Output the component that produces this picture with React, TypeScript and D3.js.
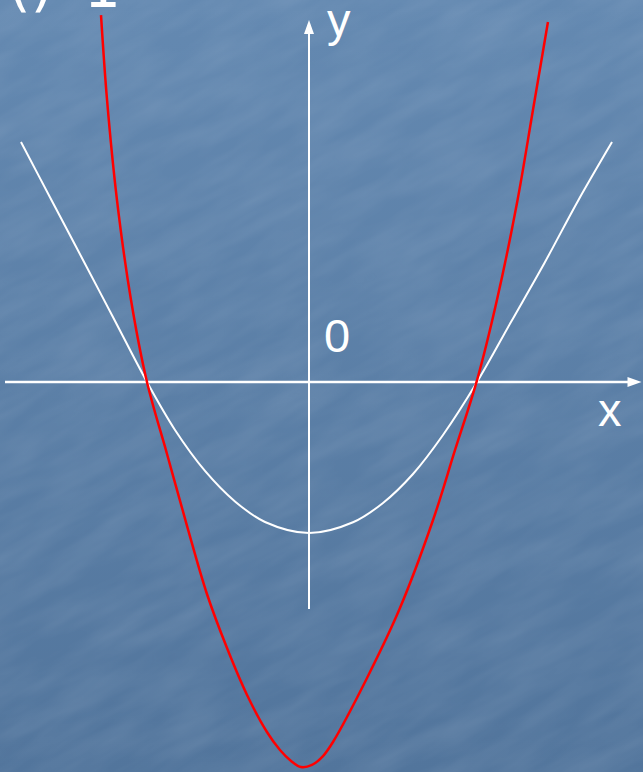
import React, {useEffect} from 'react';
import * as d3 from "d3";

// points, in axis units (x: root at ±1, y: white vertex at -1)
const whiteX = [-1.767, -1.577, -1.38, -1.19, -0.994, -0.822, -0.638, -0.454, -0.27, 0, 0.27, 0.454, 0.638, 0.822, 1.031, 1.239, 1.448, 1.65, 1.859];
const whiteY = [1.589, 1.199, 0.795, 0.404, 0, -0.318, -0.589, -0.791, -0.927, -1.0, -0.929, -0.801, -0.609, -0.351, 0, 0.397, 0.795, 1.199, 1.589];

const redX = [-1.276, -1.239, -1.178, -1.092, -0.994, -0.871, -0.748, -0.626, -0.503, -0.38, -0.258, -0.178, -0.11, -0.049, 0.018, 0.086, 0.147, 0.356, 0.558, 0.761, 0.896, 1.031, 1.153, 1.276, 1.374, 1.466];
const redY = [2.43, 1.868, 1.205, 0.543, 0, -0.477, -0.954, -1.404, -1.762, -2.073, -2.318, -2.437, -2.51, -2.55, -2.536, -2.477, -2.384, -1.96, -1.497, -0.914, -0.45, 0.013, 0.543, 1.185, 1.801, 2.384];

// axis extents
const xAxisRange = [-1.865, 2.04];
const yAxisRange = [-1.503, 2.397];

const axisLabels = {x: "x", y: "y", origin: "0"};
const titleParts = ["()", "1"];

const W = 643;
const H = 772;

export default function App() {
    useEffect(() => {
        document.body.style.margin = "0";
    }, []);

    // origin pixel (309, 382), 163px per x unit, 151px per y unit
    const xScale = d3.scaleLinear().domain([0, 1]).range([309, 472]);
    const yScale = d3.scaleLinear().domain([0, 1]).range([382, 231]);

    const line = d3.line<[number, number]>()
        .x(d => xScale(d[0]))
        .y(d => yScale(d[1]))
        .curve(d3.curveCatmullRom.alpha(0.5));

    const whitePts = whiteX.map((x, i) => [x, whiteY[i]] as [number, number]);
    const redPts = redX.map((x, i) => [x, redY[i]] as [number, number]);

    const x0 = xScale(0), y0 = yScale(0);
    const xEnd = xScale(xAxisRange[1]);
    const yEnd = yScale(yAxisRange[1]);

    return (
        <svg width={W} height={H} style={{display: "block"}}>
            <defs>
                <linearGradient id="bg" x1="0" y1="0" x2="0" y2="1">
                    <stop offset="0%" stopColor="#6489b1"/>
                    <stop offset="100%" stopColor="#52759c"/>
                </linearGradient>
                <filter id="grain" x="0" y="0" width="100%" height="100%">
                    <feTurbulence type="fractalNoise" baseFrequency="0.012 0.05" numOctaves={3} seed={4}/>
                    <feColorMatrix type="matrix"
                        values="0 0 0 0 0.75  0 0 0 0 0.82  0 0 0 0 0.92  0 0 0 0.45 -0.12"/>
                    <feComposite in2="SourceGraphic" operator="in"/>
                </filter>
            </defs>
            <rect width={W} height={H} fill="url(#bg)"/>
            <g transform={`rotate(-28 ${W / 2} ${H / 2})`}>
                <rect x={-300} y={-300} width={W + 600} height={H + 600} fill="#fff" filter="url(#grain)" opacity={0.35}/>
            </g>

            {/* clipped heading at the top */}
            <text x={8} y={5} fill="#fff" fontFamily="DejaVu Sans" fontSize={58}>{titleParts[0]}</text>
            <text x={84} y={7} fill="#fff" fontFamily="DejaVu Sans" fontSize={58}>{titleParts[1]}</text>

            {/* axes */}
            <line x1={xScale(xAxisRange[0])} y1={y0} x2={xEnd - 12} y2={y0} stroke="#fff" strokeWidth={2.5}/>
            <path d={`M ${xEnd} ${y0} L ${xEnd - 14} ${y0 - 5} L ${xEnd - 14} ${y0 + 5} Z`} fill="#fff"/>
            <line x1={x0} y1={yScale(yAxisRange[0])} x2={x0} y2={yEnd + 12} stroke="#fff" strokeWidth={2}/>
            <path d={`M ${x0} ${yEnd} L ${x0 - 5} ${yEnd + 14} L ${x0 + 5} ${yEnd + 14} Z`} fill="#fff"/>

            <text x={327} y={36} fill="#fff" fontFamily="Liberation Sans" fontSize={47}>{axisLabels.y}</text>
            <text x={324} y={352} fill="#fff" fontFamily="Liberation Sans" fontSize={47}>{axisLabels.origin}</text>
            <text x={598} y={426} fill="#fff" fontFamily="Liberation Sans" fontSize={47}>{axisLabels.x}</text>

            {/* curves */}
            <path d={line(whitePts) || ""} fill="none" stroke="#fff" strokeWidth={2}/>
            <path d={line(redPts) || ""} fill="none" stroke="#ff0000" strokeWidth={2.5}/>
        </svg>
    );
}
